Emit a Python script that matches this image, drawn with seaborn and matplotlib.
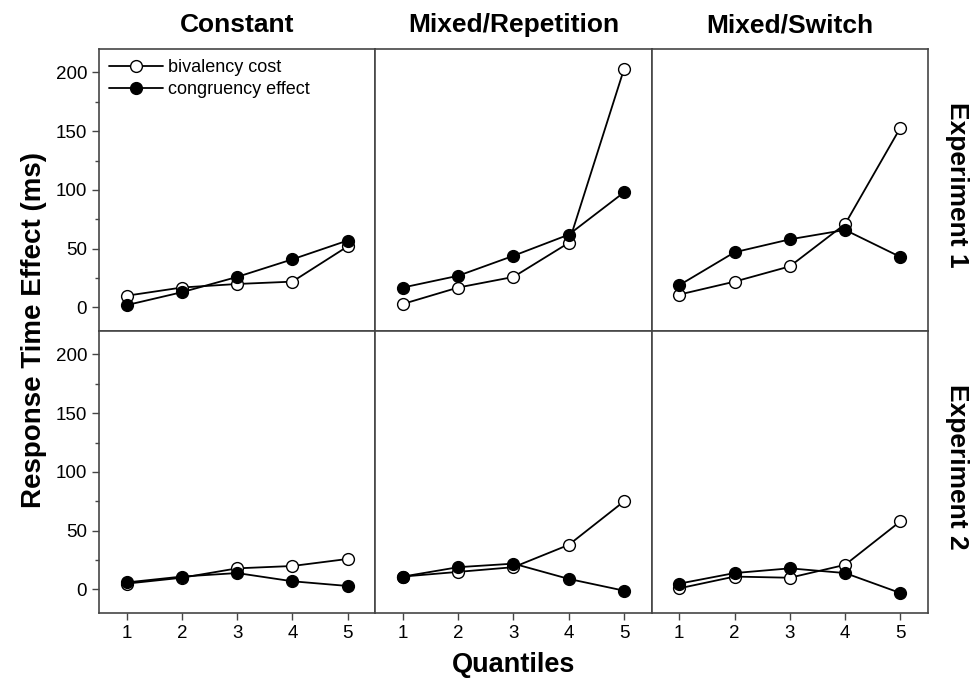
import numpy as np
import pandas as pd
import seaborn as sns
from matplotlib import pyplot as plt
from matplotlib.ticker import MultipleLocator

quantiles = [1, 2, 3, 4, 5]
conditions = ['Constant', 'Mixed/Repetition', 'Mixed/Switch']
experiments = ['Experiment 1', 'Experiment 2']

# bivalency cost (open circles)
biv_exp1_constant = [10, 17, 20, 22, 52]
biv_exp1_repetition = [3, 17, 26, 55, 203]
biv_exp1_switch = [11, 22, 35, 71, 153]
biv_exp2_constant = [5, 10, 18, 20, 26]
biv_exp2_repetition = [11, 15, 19, 38, 75]
biv_exp2_switch = [1, 11, 10, 21, 58]

# congruency effect (filled circles)
cong_exp1_constant = [2, 13, 26, 41, 57]
cong_exp1_repetition = [17, 27, 44, 62, 98]
cong_exp1_switch = [19, 47, 58, 66, 43]
cong_exp2_constant = [6, 11, 14, 7, 3]
cong_exp2_repetition = [11, 19, 22, 9, -1]
cong_exp2_switch = [5, 14, 18, 14, -3]

biv = [[biv_exp1_constant, biv_exp1_repetition, biv_exp1_switch],
       [biv_exp2_constant, biv_exp2_repetition, biv_exp2_switch]]
cong = [[cong_exp1_constant, cong_exp1_repetition, cong_exp1_switch],
        [cong_exp2_constant, cong_exp2_repetition, cong_exp2_switch]]

rows = []
for r, exp in enumerate(experiments):
    for c, cond in enumerate(conditions):
        for q, b, g in zip(quantiles, biv[r][c], cong[r][c]):
            rows.append((exp, cond, q, 'bivalency cost', b))
            rows.append((exp, cond, q, 'congruency effect', g))
df = pd.DataFrame(rows, columns=['experiment', 'condition', 'quantile', 'measure', 'effect'])

sns.set_theme(style='ticks')
plt.rcParams['font.family'] = ['Liberation Sans', 'DejaVu Sans']
plt.rcParams['text.color'] = 'black'
plt.rcParams['axes.labelcolor'] = 'black'
plt.rcParams['xtick.color'] = 'black'
plt.rcParams['ytick.color'] = 'black'

fig, axes = plt.subplots(2, 3, figsize=(9.74, 6.84), dpi=100, sharex=True, sharey=True)
fig.subplots_adjust(left=0.1016, right=0.9528, top=0.9284, bottom=0.1038, wspace=0, hspace=0)

faces = {'bivalency cost': 'white', 'congruency effect': 'black'}
frame = '#454545'

for r, exp in enumerate(experiments):
    for c, cond in enumerate(conditions):
        ax = axes[r, c]
        sub = df[(df.experiment == exp) & (df.condition == cond)]
        for measure, face in faces.items():
            sns.lineplot(data=sub[sub.measure == measure], x='quantile', y='effect',
                         ax=ax, color='black', marker='o', markersize=8.5,
                         markerfacecolor=face, markeredgecolor='black',
                         markeredgewidth=1.0, linewidth=1.3, label=measure,
                         legend=False)
        ax.set_xlim(0.5, 5.5)
        ax.set_ylim(-20, 220)
        ax.set_xticks(quantiles)
        ax.yaxis.set_major_locator(MultipleLocator(50))
        ax.yaxis.set_minor_locator(MultipleLocator(25))
        ax.set_xlabel('')
        ax.set_ylabel('')
        for sp in ax.spines.values():
            sp.set_visible(True)
            sp.set_color(frame)
            sp.set_linewidth(1.2)
        ax.tick_params(axis='both', which='major', labelsize=13.5, length=5,
                       width=1, color=frame, direction='out')
        ax.tick_params(axis='y', which='minor', length=3, width=1, color=frame)
        if c > 0:
            ax.tick_params(axis='y', which='both', left=False)
        if r == 0:
            ax.tick_params(axis='x', which='both', bottom=False)
            ax.set_title(cond, fontsize=19, fontweight='bold', pad=12)
        if c == 2:
            ax.text(1.105, 0.52, exp, transform=ax.transAxes, rotation=-90,
                    ha='center', va='center', fontsize=19, fontweight='bold')

handles = axes[0, 0].get_lines()[:2]
axes[0, 0].legend(handles, ['bivalency cost', 'congruency effect'], loc='upper left',
                  frameon=False, fontsize=13, handlelength=3, handletextpad=0.3,
                  borderaxespad=0.15, labelspacing=0.3)

fig.text(0.035, 0.518, 'Response Time Effect (ms)', rotation=90, ha='center',
         va='center', fontsize=20, fontweight='bold')
fig.text(0.527, 0.028, 'Quantiles', ha='center', va='center', fontsize=19.5,
         fontweight='bold')

plt.savefig('out.png', dpi=100)
